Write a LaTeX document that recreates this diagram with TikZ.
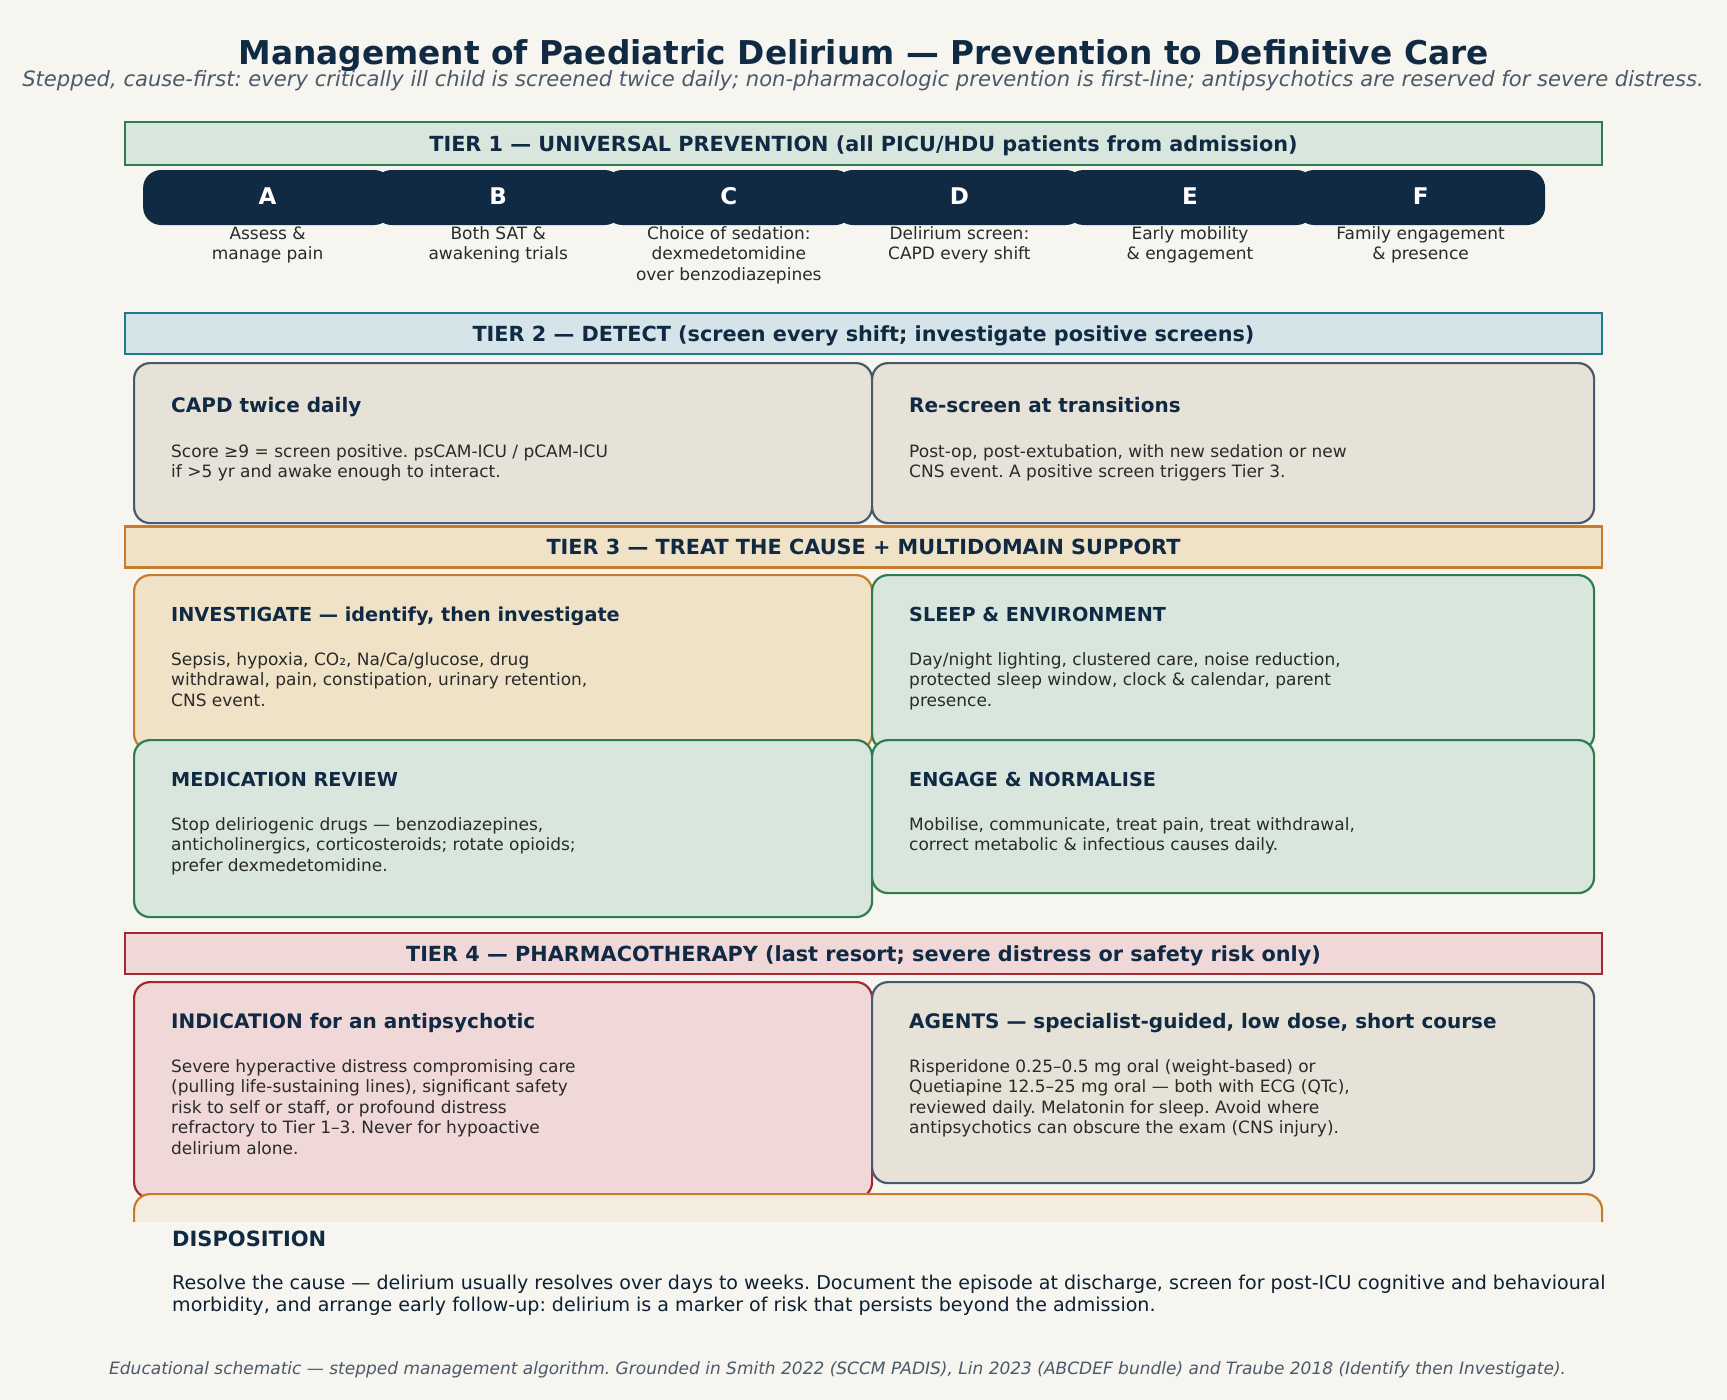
\documentclass[tikz,border=0pt]{standalone}
\usepackage{fontspec}
\setmainfont{DejaVu Sans}
\definecolor{bg}{HTML}{F6F5EF}
\definecolor{navy}{HTML}{112A44}
\definecolor{bodyc}{HTML}{2A2A2A}
\definecolor{slate}{HTML}{4B5A6B}
\definecolor{gstroke}{HTML}{2F7D4E}
\definecolor{gfill}{HTML}{D9E6DD}
\definecolor{tstroke}{HTML}{1F7A8A}
\definecolor{tfill}{HTML}{D4E4E9}
\definecolor{ostroke}{HTML}{C87B2A}
\definecolor{ofill}{HTML}{F0E2C6}
\definecolor{rstroke}{HTML}{A2292F}
\definecolor{rfill}{HTML}{F0D8D8}
\definecolor{kstroke}{HTML}{4A5A6E}
\definecolor{kfill}{HTML}{E6E2D7}
\definecolor{dfill}{HTML}{F4ECDF}
\begin{document}
\frenchspacing
\begin{tikzpicture}[x=1pt,y=-1pt,
  banner/.style={draw, line width=2.5pt, minimum width=1477pt, minimum height=41pt, inner sep=0pt},
  bantext/.style={anchor=base, text=navy, font=\fontsize{20.8}{24}\selectfont\bfseries, inner sep=0pt},
  card/.style={draw, line width=2.2pt, rounded corners=16pt, anchor=north west, inner sep=0pt},
  ttl/.style={anchor=base west, text=navy, font=\fontsize{20}{24}\selectfont\bfseries, inner sep=0pt},
  capttl/.style={ttl, font=\fontsize{19.25}{24}\selectfont\bfseries},
  bdy/.style={anchor=north west, align=left, text=bodyc, font=\fontsize{17}{20.5}\selectfont, inner sep=0pt},
  pill/.style={fill=navy, rounded corners=18pt, minimum width=249pt, minimum height=55pt, inner sep=0pt, text=white, font=\fontsize{23}{26}\selectfont\bfseries},
  pdesc/.style={anchor=north, align=center, text=bodyc, font=\fontsize{17}{20.5}\selectfont, inner sep=0pt}
]
\fill[bg] (0,0) rectangle (1727,1400);
\useasboundingbox (0,0) rectangle (1727,1400);

% Title
\node[anchor=base, text=navy, font=\fontsize{32.8}{36}\selectfont\bfseries, inner sep=0pt] (title) at (863.5,64) {Management of Paediatric Delirium — Prevention to Definitive Care};
\node[anchor=base, text=slate, font=\fontsize{21.1}{24}\selectfont\itshape, inner sep=0pt] (subtitle) at (863,86) {Stepped, cause-first: every critically ill child is screened twice daily; non-pharmacologic prevention is first-line; antipsychotics are reserved for severe distress.};

% Tier 1
\node[banner, draw=gstroke, fill=gfill, minimum height=43pt] (t1) at (863.5,143.5) {};
\node[bantext] at (863.5,151) {TIER 1 — UNIVERSAL PREVENTION (all PICU/HDU patients from admission)};

\node[pill] (pA) at (267.6,197.5) {\raisebox{2.5pt}{A}};
\node[pill] (pB) at (498.2,197.5) {\raisebox{2.5pt}{B}};
\node[pill] (pC) at (728.8,197.5) {\raisebox{2.5pt}{C}};
\node[pill] (pD) at (959.4,197.5) {\raisebox{2.5pt}{D}};
\node[pill] (pE) at (1190.0,197.5) {\raisebox{2.5pt}{E}};
\node[pill] (pF) at (1420.6,197.5) {\raisebox{2.5pt}{F}};
\node[pdesc] (dA) at (267.6,226.3) {Assess \&\\manage pain};
\node[pdesc] (dB) at (498.2,226.3) {Both SAT \&\\awakening trials};
\node[pdesc] (dC) at (728.8,226.3) {Choice of sedation:\\dexmedetomidine\\over benzodiazepines};
\node[pdesc] (dD) at (959.4,226.3) {Delirium screen:\\CAPD every shift};
\node[pdesc] (dE) at (1190.0,226.3) {Early mobility\\\& engagement};
\node[pdesc] (dF) at (1420.6,226.3) {Family engagement\\\& presence};

% Tier 2
\node[banner, draw=tstroke, fill=tfill] (t2) at (863.5,333.5) {};
\node[bantext] at (863.5,341) {TIER 2 — DETECT (screen every shift; investigate positive screens)};

\node[card, draw=kstroke, fill=kfill, minimum width=738pt, minimum height=160pt] (capd) at (133,362) {};
\node[ttl] at ([xshift=38pt,yshift=-50pt]capd.north west) {CAPD twice daily};
\node[bdy] at ([xshift=38pt,yshift=-82pt]capd.north west) {Score ≥9 = screen positive. psCAM-ICU / pCAM-ICU\\if >5 yr and awake enough to interact.};

\node[card, draw=kstroke, fill=kfill, minimum width=722pt, minimum height=160pt] (resc) at (871,362) {};
\node[ttl] at ([xshift=38pt,yshift=-50pt]resc.north west) {Re-screen at transitions};
\node[bdy] at ([xshift=38pt,yshift=-82pt]resc.north west) {Post-op, post-extubation, with new sedation or new\\CNS event. A positive screen triggers Tier 3.};

% Tier 3
\node[banner, draw=ostroke, fill=ofill] (t3) at (863.5,547) {};
\node[bantext] at (863.5,554.5) {TIER 3 — TREAT THE CAUSE + MULTIDOMAIN SUPPORT};

\node[card, draw=ostroke, fill=ofill, minimum width=738pt, minimum height=175pt] (inv) at (133,574) {};
\node[capttl] at ([xshift=38pt,yshift=-47pt]inv.north west) {INVESTIGATE — identify, then investigate};
\node[bdy] at ([xshift=38pt,yshift=-78pt]inv.north west) {Sepsis, hypoxia, CO₂, Na/Ca/glucose, drug\\withdrawal, pain, constipation, urinary retention,\\CNS event.};

\node[card, draw=gstroke, fill=gfill, minimum width=722pt, minimum height=175pt] (sleep) at (871,574) {};
\node[capttl] at ([xshift=38pt,yshift=-47pt]sleep.north west) {SLEEP \& ENVIRONMENT};
\node[bdy] at ([xshift=38pt,yshift=-78pt]sleep.north west) {Day/night lighting, clustered care, noise reduction,\\protected sleep window, clock \& calendar, parent\\presence.};

\node[card, draw=gstroke, fill=gfill, minimum width=738pt, minimum height=177pt] (med) at (133,739) {};
\node[capttl] at ([xshift=38pt,yshift=-47pt]med.north west) {MEDICATION REVIEW};
\node[bdy] at ([xshift=38pt,yshift=-78pt]med.north west) {Stop deliriogenic drugs — benzodiazepines,\\anticholinergics, corticosteroids; rotate opioids;\\prefer dexmedetomidine.};

\node[card, draw=gstroke, fill=gfill, minimum width=722pt, minimum height=153pt] (eng) at (871,739) {};
\node[capttl] at ([xshift=38pt,yshift=-47pt]eng.north west) {ENGAGE \& NORMALISE};
\node[bdy] at ([xshift=38pt,yshift=-78pt]eng.north west) {Mobilise, communicate, treat pain, treat withdrawal,\\correct metabolic \& infectious causes daily.};

% Tier 4
\node[banner, draw=rstroke, fill=rfill] (t4) at (863.5,953.5) {};
\node[bantext] at (863.5,961) {TIER 4 — PHARMACOTHERAPY (last resort; severe distress or safety risk only)};

\node[card, draw=rstroke, fill=rfill, minimum width=738pt, minimum height=216pt] (ind) at (133,981) {};
\node[ttl] at ([xshift=38pt,yshift=-47pt]ind.north west) {INDICATION for an antipsychotic};
\node[bdy] at ([xshift=38pt,yshift=-78pt]ind.north west) {Severe hyperactive distress compromising care\\(pulling life-sustaining lines), significant safety\\risk to self or staff, or profound distress\\refractory to Tier 1–3. Never for hypoactive\\delirium alone.};

\node[card, draw=kstroke, fill=kfill, minimum width=722pt, minimum height=201pt] (agt) at (871,981) {};
\node[ttl] at ([xshift=38pt,yshift=-47pt]agt.north west) {AGENTS — specialist-guided, low dose, short course};
\node[bdy] at ([xshift=38pt,yshift=-78pt]agt.north west) {Risperidone 0.25–0.5 mg oral (weight-based) or\\Quetiapine 12.5–25 mg oral — both with ECG (QTc),\\reviewed daily. Melatonin for sleep. Avoid where\\antipsychotics can obscure the exam (CNS injury).};

% Disposition (clipped)
\begin{scope}
\clip (0,0) rectangle (1727,1221);
\node[card, draw=ostroke, fill=dfill, minimum width=1468pt, minimum height=150pt] (dispo) at (133,1193) {};
\end{scope}
\node[ttl, font=\fontsize{21}{24}\selectfont\bfseries] (dispot) at (172,1246.5) {DISPOSITION};
\node[bdy, font=\fontsize{19.05}{22}\selectfont, text=navy!75!black] (dispob) at (172,1275) {Resolve the cause — delirium usually resolves over days to weeks. Document the episode at discharge, screen for post-ICU cognitive and behavioural\\morbidity, and arrange early follow-up: delirium is a marker of risk that persists beyond the admission.};

% Footer
\node[anchor=base west, text=slate, font=\fontsize{17}{20}\selectfont\itshape, inner sep=0pt] (foot) at (109,1374) {Educational schematic — stepped management algorithm. Grounded in Smith 2022 (SCCM PADIS), Lin 2023 (ABCDEF bundle) and Traube 2018 (Identify then Investigate).};
\end{tikzpicture}
\end{document}
